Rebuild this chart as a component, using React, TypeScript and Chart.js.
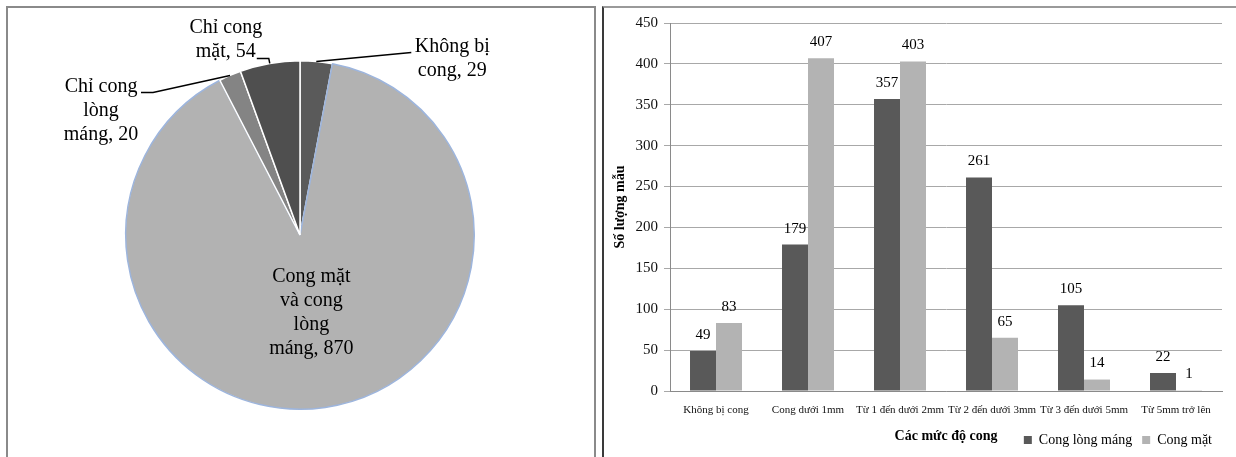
import React, { useEffect, useRef } from "react";
import { Chart, registerables } from "chart.js";

Chart.register(...registerables);

const SERIF = "'Liberation Serif', 'Times New Roman', serif";

// ---- Pie: distribution of warping types ----
const pieCategories = ["Không bị cong", "Cong mặt và cong lòng máng", "Chỉ cong lòng máng", "Chỉ cong mặt"];
const pieValues = [29, 870, 20, 54];
// wrapped label text (value is appended to the last line)
const pieLabelWords = [
  ["Không bị", "cong"],
  ["Cong mặt", "và cong", "lòng", "máng"],
  ["Chỉ cong", "lòng", "máng"],
  ["Chỉ cong", "mặt"],
];
const pieColors = ["#5a5a5a", "#b2b2b2", "#848484", "#4f4f4f"];
const pieBorders = ["#ffffff", "#9db5dd", "#ffffff", "#ffffff"];

// ---- Bars: samples per warping level ----
const categories = [
  "Không bị cong",
  "Cong dưới 1mm",
  "Từ 1 đến dưới 2mm",
  "Từ 2 đến dưới 3mm",
  "Từ 3 đến dưới 5mm",
  "Từ 5mm trở lên",
];
const seriesNames = ["Cong lòng máng", "Cong mặt"];
const congLongMang = [49, 179, 357, 261, 105, 22];
const congMat = [83, 407, 403, 65, 14, 1];
const yMin = 0;
const yMax = 450;
const yStep = 50;

const xAxisTitle = "Các mức độ cong";
const yAxisTitle = "Số lượng mẫu";

// Callout placement for pie labels, relative to the slice's outer mid point
type Callout =
  | { inside: true; r: number }
  | { inside: false; dx: number; dy: number; path: [number, number][] };
const callouts: Callout[] = [
  { inside: false, dx: 136, dy: -15, path: [[95, -9]] },
  { inside: true, r: 0.45 },
  { inside: false, dx: -129, dy: 11, path: [[-77, 17], [-89, 17]] },
  { inside: false, dx: -44, dy: -36, path: [[-1, -5], [-13, -5]] },
];
const PIE_LINE_HEIGHT = 24;

function pieLines(i: number): string[] {
  const words = pieLabelWords[i].slice();
  words[words.length - 1] = `${words[words.length - 1]}, ${pieValues[i]}`;
  return words;
}

function PieChart() {
  const ref = useRef<HTMLCanvasElement>(null);
  useEffect(() => {
    if (!ref.current) return;
    const calloutPlugin = {
      id: "pieCallouts",
      afterDatasetsDraw(chart: any) {
        const ctx = chart.ctx as CanvasRenderingContext2D;
        const arcs = chart.getDatasetMeta(0).data;
        ctx.save();
        ctx.font = `20px ${SERIF}`;
        ctx.fillStyle = "#000";
        ctx.strokeStyle = "#000";
        ctx.lineWidth = 1.5;
        ctx.textAlign = "center";
        ctx.textBaseline = "middle";
        arcs.forEach((arc: any, i: number) => {
          const { x, y, startAngle, endAngle, outerRadius } = arc.getProps(
            ["x", "y", "startAngle", "endAngle", "outerRadius"],
            true
          );
          const mid = (startAngle + endAngle) / 2;
          const lines = pieLines(i);
          const co = callouts[i];
          let cx: number;
          let cy: number;
          if (co.inside) {
            cx = x + Math.cos(mid) * outerRadius * co.r;
            cy = y + Math.sin(mid) * outerRadius * co.r - ((lines.length - 1) * PIE_LINE_HEIGHT) / 2;
          } else {
            const ax = x + Math.cos(mid) * outerRadius;
            const ay = y + Math.sin(mid) * outerRadius;
            ctx.beginPath();
            ctx.moveTo(ax, ay);
            co.path.forEach(([dx, dy]) => ctx.lineTo(ax + dx, ay + dy));
            ctx.stroke();
            cx = ax + co.dx;
            cy = ay + co.dy;
          }
          lines.forEach((t, k) => ctx.fillText(t, cx, cy + k * PIE_LINE_HEIGHT));
        });
        ctx.restore();
      },
    };
    const chart = new Chart(ref.current, {
      type: "pie",
      data: {
        labels: pieCategories,
        datasets: [
          {
            data: pieValues,
            backgroundColor: pieColors,
            borderColor: pieBorders,
            borderWidth: 1.5,
          },
        ],
      },
      options: {
        animation: false,
        responsive: false,
        events: [],
        layout: { padding: { left: 117, right: 119, top: 52, bottom: 47 } },
        plugins: { legend: { display: false }, tooltip: { enabled: false } },
      },
      plugins: [calloutPlugin],
    });
    return () => chart.destroy();
  }, []);
  return <canvas ref={ref} width={586} height={449} style={{ display: "block" }} />;
}

function BarChart() {
  const ref = useRef<HTMLCanvasElement>(null);
  useEffect(() => {
    if (!ref.current) return;
    const valueLabels = {
      id: "valueLabels",
      afterDatasetsDraw(chart: any) {
        const ctx = chart.ctx as CanvasRenderingContext2D;
        ctx.save();
        ctx.font = `15px ${SERIF}`;
        ctx.fillStyle = "#000";
        ctx.textAlign = "center";
        ctx.textBaseline = "middle";
        chart.data.datasets.forEach((ds: any, di: number) => {
          const meta = chart.getDatasetMeta(di);
          meta.data.forEach((bar: any, i: number) => {
            ctx.fillText(String(ds.data[i]), bar.x, bar.y - 16);
          });
        });
        ctx.restore();
      },
    };
    const xTitle = {
      id: "xTitle",
      afterDraw(chart: any) {
        const ctx = chart.ctx as CanvasRenderingContext2D;
        const area = chart.chartArea;
        const hb = chart.legend?.legendHitBoxes?.[0];
        const yPos = hb ? hb.top + hb.height / 2 - 4 : chart.height - 12;
        ctx.save();
        ctx.font = `bold 14px ${SERIF}`;
        ctx.fillStyle = "#000";
        ctx.textAlign = "center";
        ctx.textBaseline = "middle";
        ctx.fillText(xAxisTitle, (area.left + area.right) / 2, yPos);
        ctx.restore();
      },
    };
    const chart = new Chart(ref.current, {
      type: "bar",
      data: {
        labels: categories,
        datasets: [
          {
            label: seriesNames[0],
            data: congLongMang,
            backgroundColor: "#595959",
            categoryPercentage: 0.565,
            barPercentage: 1,
          },
          {
            label: seriesNames[1],
            data: congMat,
            backgroundColor: "#b3b3b3",
            categoryPercentage: 0.565,
            barPercentage: 1,
          },
        ],
      },
      options: {
        animation: false,
        responsive: false,
        events: [],
        layout: { padding: { top: 12, right: 14, left: 0, bottom: 0 } },
        scales: {
          x: {
            grid: { display: false, drawTicks: false },
            border: { display: true, color: "#8a8a8a", width: 1 },
            ticks: {
              font: { family: SERIF, size: 11 },
              color: "#111",
              padding: 13,
              maxRotation: 0,
              autoSkip: false,
            },
            afterFit: (s: any) => {
              s.height = 32;
            },
          },
          y: {
            min: yMin,
            max: yMax,
            ticks: { stepSize: yStep, font: { family: SERIF, size: 15 }, color: "#111", padding: 6 },
            grid: { color: "#a8a8a8", tickLength: 6, lineWidth: 1 },
            border: { color: "#8a8a8a", width: 1 },
            title: {
              display: true,
              text: yAxisTitle,
              font: { family: SERIF, size: 14, weight: "bold" },
              color: "#000",
              padding: { top: 8, bottom: 0 },
            },
            afterFit: (s: any) => {
              s.width = 66;
            },
          },
        },
        plugins: {
          legend: {
            position: "bottom",
            align: "end",
            labels: {
              boxWidth: 8,
              boxHeight: 8,
              padding: 10,
              color: "#000",
              font: { family: SERIF, size: 14 },
            },
          },
          tooltip: { enabled: false },
        },
      },
      plugins: [valueLabels, xTitle],
    });
    return () => chart.destroy();
  }, []);
  return <canvas ref={ref} width={632} height={449} style={{ display: "block" }} />;
}

export default function App() {
  return (
    <div
      style={{
        position: "absolute",
        left: 0,
        top: 0,
        width: 1236,
        height: 457,
        overflow: "hidden",
        background: "#ffffff",
      }}
    >
      <div
        style={{
          position: "absolute",
          left: 6,
          top: 6,
          width: 586,
          height: 480,
          borderTop: "2px solid #8a8a8a",
          borderLeft: "2px solid #8a8a8a",
          borderRight: "2px solid #8a8a8a",
        }}
      >
        <PieChart />
      </div>
      <div
        style={{
          position: "absolute",
          left: 602,
          top: 6,
          width: 640,
          height: 480,
          borderTop: "2px solid #9a9a9a",
          borderLeft: "2px solid #3a3a3a",
        }}
      >
        <BarChart />
      </div>
    </div>
  );
}
